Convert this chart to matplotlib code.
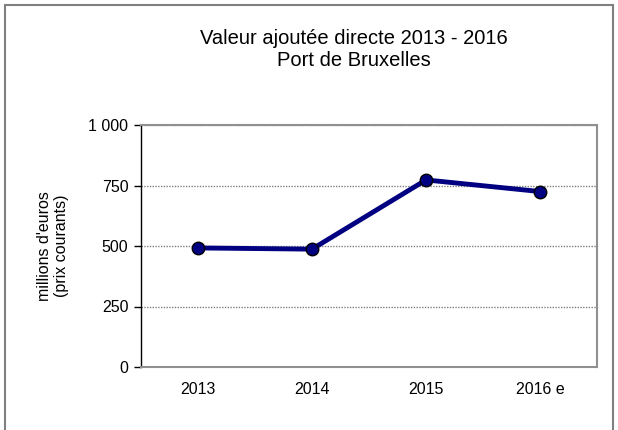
import matplotlib
matplotlib.use('Agg')
import matplotlib.pyplot as plt
import matplotlib.patches as mpatches
from matplotlib.ticker import FuncFormatter

# ── Données ──────────────────────────────────────────────
annees = ['2013', '2014', '2015', '2016 e']
valeurs = [492, 487, 773, 725]
yticks = [0, 250, 500, 750, 1000]

plt.rcParams['font.family'] = ['Liberation Sans', 'DejaVu Sans']

fig = plt.figure(figsize=(6.18, 4.30), dpi=100)
fig.patch.set_facecolor('white')

# cadre gris autour du graphique
fig.patches.append(mpatches.Rectangle((0.008, -0.01), 0.984, 0.998, transform=fig.transFigure,
                                      fill=False, edgecolor='#808080', linewidth=1.5))

ax = fig.add_axes([141 / 618, 1 - 367 / 430, 456 / 618, 242 / 430])

x = list(range(len(annees)))
ax.plot(x, valeurs, color='#000080', linewidth=3.5, marker='o', markersize=9,
        markerfacecolor='#000080', markeredgecolor='black', markeredgewidth=1.0, zorder=3)

ax.set_xlim(-0.5, len(annees) - 0.5)
ax.set_ylim(0, 1000)
ax.set_xticks(x)
ax.set_xticklabels(annees)
ax.set_yticks(yticks)
ax.yaxis.set_major_formatter(FuncFormatter(lambda v, p: f'{int(v):,}'.replace(',', ' ')))

ax.tick_params(axis='x', length=0, pad=11, labelsize=11.5)
ax.tick_params(axis='y', length=5, width=1, direction='out', pad=4, labelsize=11.5)

ax.grid(axis='y', color='#808080', linestyle=(0, (1, 1)), linewidth=1.0)
ax.set_axisbelow(True)

for s in ['top', 'right', 'bottom']:
    ax.spines[s].set_color('#909090')
    ax.spines[s].set_linewidth(1.5)
ax.spines['left'].set_color('black')
ax.spines['left'].set_linewidth(1.0)

ax.set_ylabel("millions d'euros\n(prix courants)", fontsize=11.5, labelpad=14, linespacing=1.2)

fig.text(354 / 618, 1 - 50 / 430, 'Valeur ajoutée directe 2013 - 2016\nPort de Bruxelles',
         ha='center', va='center', fontsize=14.5, linespacing=1.2)

plt.savefig('out.png', dpi=100, facecolor='white')
